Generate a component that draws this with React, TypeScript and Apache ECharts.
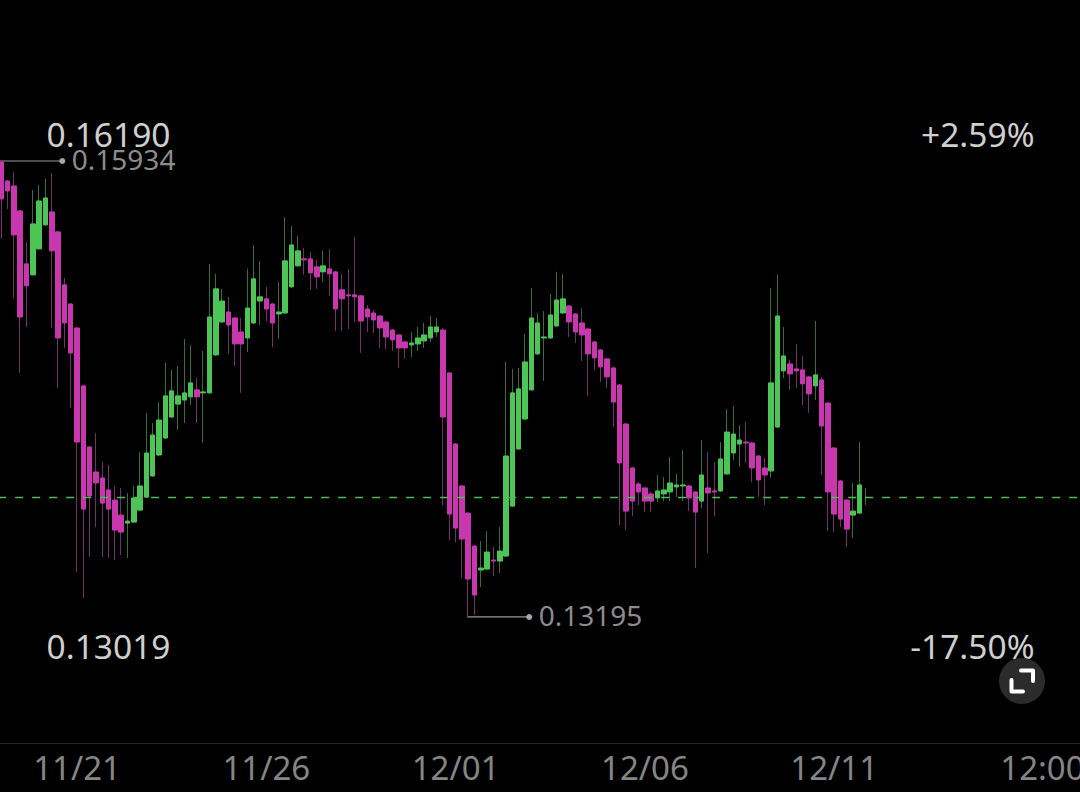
import React, { useEffect, useRef } from "react";
import * as echarts from "echarts";

const opens = [0.15928,0.15814,0.15784,0.15634,0.15316,0.15250,0.15406,0.15550,0.15628,0.15508,0.15190,0.15075,0.14931,0.14583,0.14216,0.14066,0.14030,0.13958,0.13897,0.13807,
0.13759,0.13765,0.13837,0.13915,0.14042,0.14168,0.14270,0.14396,0.14474,0.14498,0.14517,0.14559,0.14541,0.14541,0.14769,0.14967,0.15027,0.14991,0.14907,0.14871,
0.14961,0.15093,0.15106,0.15075,0.15015,0.15021,0.15178,0.15304,0.15346,0.15346,0.15298,0.15268,0.15286,0.15268,0.15160,0.15130,0.15130,0.15124,0.15045,0.15021,
0.15003,0.14967,0.14919,0.14889,0.14847,0.14829,0.14835,0.14853,0.14871,0.14907,0.14919,0.14661,0.14234,0.13982,0.13819,0.13621,0.13477,0.13483,0.13537,0.13531,
0.13561,0.13861,0.14204,0.14384,0.14559,0.14775,0.14871,0.14871,0.14943,0.15021,0.15063,0.15015,0.14961,0.14925,0.14847,0.14799,0.14745,0.14691,0.14589,0.14354,
0.14090,0.13994,0.13970,0.13934,0.13910,0.13934,0.13946,0.13976,0.13982,0.13982,0.13946,0.13891,0.13970,0.13952,0.13952,0.14054,0.14180,0.14234,0.14246,0.14240,
0.14162,0.14090,0.14072,0.14336,0.14673,0.14715,0.14685,0.14679,0.14637,0.14583,0.14619,0.14480,0.14210,0.14012,0.13897,0.13807,0.13819,0.13915];

const closes = [0.15706,0.15754,0.15490,0.14997,0.15184,0.15556,0.15694,0.15712,0.15394,0.14871,0.14961,0.14781,0.14246,0.13843,0.13922,0.14000,0.13879,0.13843,0.13717,0.13705,
0.13771,0.13910,0.13982,0.14180,0.14288,0.14378,0.14523,0.14553,0.14523,0.14541,0.14601,0.14517,0.14547,0.14997,0.15166,0.15093,0.14949,0.14835,0.14835,0.15051,
0.15226,0.15118,0.15045,0.14961,0.15027,0.15334,0.15430,0.15394,0.15340,0.15262,0.15238,0.15304,0.15256,0.15045,0.15106,0.15124,0.15118,0.14973,0.14997,0.14979,
0.14931,0.14877,0.14859,0.14811,0.14811,0.14841,0.14871,0.14889,0.14937,0.14937,0.14396,0.13813,0.13729,0.13663,0.13423,0.13327,0.13489,0.13585,0.13531,0.13591,
0.14162,0.14541,0.14565,0.14727,0.14991,0.14961,0.14877,0.15009,0.15099,0.15106,0.14967,0.14907,0.14889,0.14775,0.14751,0.14697,0.14637,0.14486,0.14120,0.13831,
0.13891,0.13946,0.13891,0.13891,0.13952,0.13958,0.14000,0.13988,0.13988,0.13910,0.13825,0.14048,0.13940,0.13946,0.14144,0.14306,0.14294,0.14258,0.14240,0.14090,
0.14018,0.14048,0.14601,0.15003,0.14763,0.14655,0.14673,0.14595,0.14535,0.14649,0.14342,0.13946,0.13813,0.13783,0.13723,0.13831,0.13988,0.13915];

const lows = [0.15466,0.15646,0.15112,0.14661,0.14937,0.15246,0.15400,0.15546,0.14931,0.14571,0.14811,0.14450,0.13465,0.13309,0.13555,0.13735,0.13555,0.13549,0.13537,0.13567,
0.13549,0.13759,0.13831,0.13909,0.14036,0.14162,0.14264,0.14390,0.14318,0.14360,0.14468,0.14360,0.14240,0.14535,0.14763,0.14961,0.14775,0.14703,0.14541,0.14787,
0.14955,0.14949,0.14973,0.14817,0.14865,0.15015,0.15172,0.15298,0.15250,0.15160,0.15166,0.15208,0.15124,0.14913,0.14913,0.14925,0.14967,0.14781,0.14907,0.14901,
0.14811,0.14805,0.14793,0.14691,0.14745,0.14757,0.14793,0.14811,0.14847,0.14877,0.13867,0.13657,0.13645,0.13429,0.13195,0.13207,0.13375,0.13477,0.13441,0.13459,
0.13555,0.13855,0.14198,0.14378,0.14553,0.14769,0.14613,0.14865,0.14937,0.15015,0.14877,0.14841,0.14733,0.14523,0.14679,0.14607,0.14571,0.14336,0.13747,0.13717,
0.13801,0.13867,0.13825,0.13825,0.13885,0.13891,0.13891,0.13915,0.13891,0.13831,0.13489,0.13849,0.13579,0.13801,0.13946,0.14048,0.14138,0.14096,0.14120,0.14006,
0.13915,0.13867,0.14030,0.14330,0.14631,0.14559,0.14571,0.14468,0.14420,0.14498,0.14048,0.13711,0.13705,0.13735,0.13615,0.13669,0.13813,0.13867];

const highs = [0.15934,0.15820,0.15868,0.15640,0.15448,0.15760,0.15790,0.15826,0.15862,0.15514,0.15232,0.15081,0.14937,0.14589,0.14222,0.14300,0.14126,0.14108,0.13982,0.13970,
0.13940,0.13982,0.14186,0.14420,0.14360,0.14486,0.14721,0.14679,0.14703,0.14865,0.14829,0.14631,0.14793,0.15316,0.15256,0.15166,0.15118,0.14997,0.14991,0.15286,
0.15430,0.15334,0.15178,0.15081,0.15208,0.15598,0.15544,0.15484,0.15412,0.15388,0.15340,0.15394,0.15406,0.15274,0.15256,0.15286,0.15478,0.15130,0.15069,0.15039,
0.15009,0.14973,0.14925,0.14895,0.14853,0.14907,0.14937,0.14961,0.15003,0.14991,0.14931,0.14667,0.14240,0.13988,0.13825,0.13627,0.13651,0.13711,0.13615,0.13735,
0.14727,0.14685,0.14691,0.14895,0.15172,0.15021,0.15033,0.15136,0.15268,0.15256,0.15069,0.15021,0.15051,0.14931,0.14853,0.14805,0.14751,0.14697,0.14595,0.14360,
0.14096,0.14006,0.13976,0.13946,0.14048,0.14036,0.14156,0.14054,0.14198,0.13988,0.13952,0.14258,0.14186,0.14126,0.14246,0.14444,0.14462,0.14348,0.14366,0.14246,
0.14168,0.14150,0.15172,0.15250,0.14937,0.14739,0.14835,0.14763,0.14643,0.14973,0.14637,0.14486,0.14216,0.14018,0.13903,0.14000,0.14246,0.13970];

const tickCategories = ["11/21 00:00", "11/26 00:00", "12/01 00:00", "12/06 00:00", "12/11 00:00", "12/16 12:00"];
const currentPrice = 0.13915;
const highPrice = 0.15934;
const lowPrice = 0.13195;
const rangeHigh = "0.16190";
const rangeLow = "0.13019";
const pctHigh = "+2.59%";
const pctLow = "-17.50%";

const SLOTS = 172;
const FONT = '"Noto Sans", sans-serif';
const GREEN = "#4cc556";
const MAGENTA = "#c837ae";
const GREEN_WICK = "#33703c";
const MAGENTA_WICK = "#74306c";

function buildCategories(): string[] {
  const out: string[] = [];
  const pad = (n: number) => String(n).padStart(2, "0");
  for (let i = 0; i < SLOTS; i++) {
    const d = new Date(Date.UTC(2023, 10, 19, i * 4));
    out.push(`${pad(d.getUTCMonth() + 1)}/${pad(d.getUTCDate())} ${pad(d.getUTCHours())}:00`);
  }
  return out;
}

export default function App() {
  const ref = useRef<HTMLDivElement>(null);
  useEffect(() => {
    document.body.style.margin = "0";
    document.body.style.background = "#000";
    const chart = echarts.init(ref.current!, null, { renderer: "svg" });
    const categories = buildCategories();
    const wicks = opens.map((o, i) => [o, closes[i], lows[i], highs[i]]);
    const bodies = opens.map((o, i) =>
      o === closes[i] ? ["-", "-", "-", "-"] : [o, closes[i], Math.min(o, closes[i]), Math.max(o, closes[i])]
    );
    chart.setOption({
      animation: false,
      backgroundColor: "#000",
      grid: { left: -1.85, top: 0, width: 1085.3, height: 743, containLabel: false, outerBoundsMode: "none" },
      xAxis: {
        type: "category",
        data: categories,
        boundaryGap: true,
        axisLine: { show: true, lineStyle: { color: "#272727", width: 1 } },
        axisTick: { show: false },
        splitLine: { show: false },
        axisLabel: {
          interval: (_: number, value: string) => tickCategories.includes(value),
          formatter: (value: string) => {
            const [date, time] = value.split(" ");
            return time === "00:00" ? date : time;
          },
          color: "#858585",
          fontFamily: FONT,
          fontSize: 33,
          margin: 8,
          hideOverlap: false,
        },
      },
      yAxis: { type: "value", min: 0.12438, max: 0.16901, show: false, scale: true },
      series: [
        {
          type: "candlestick",
          name: "wicks",
          barWidth: 1,
          z: 2,
          data: wicks,
          itemStyle: {
            color: GREEN_WICK,
            color0: MAGENTA_WICK,
            borderColor: GREEN_WICK,
            borderColor0: MAGENTA_WICK,
            borderColorDoji: GREEN_WICK,
            borderWidth: 1,
          },
          markLine: {
            silent: true,
            symbol: "none",
            precision: 5,
            label: { show: false },
            lineStyle: { color: "#52b85e", type: [8, 9], width: 1.3 },
            data: [{ yAxis: currentPrice }],
          },
        },
        {
          type: "candlestick",
          name: "bodies",
          barWidth: 5,
          z: 3,
          data: bodies,
          itemStyle: {
            color: GREEN,
            color0: MAGENTA,
            borderColor: GREEN,
            borderColor0: MAGENTA,
            borderWidth: 1,
          },
        },
      ],
    });

    const px = (idx: number) => chart.convertToPixel({ xAxisIndex: 0 }, idx) as number;
    const py = (v: number) => chart.convertToPixel({ yAxisIndex: 0 }, v) as number;
    const leader = (idx: number, price: number, label: string) => {
      const x0 = Math.max(0, px(idx) - 1.3);
      const xEnd = px(idx) + 61;
      const y = py(price);
      return [
        { type: "line", shape: { x1: x0, y1: y, x2: xEnd, y2: y }, style: { stroke: "#9a9a9a", lineWidth: 1.2 } },
        { type: "circle", shape: { cx: xEnd, cy: y, r: 3 }, style: { fill: "#a8a8a8" } },
        {
          type: "text",
          x: xEnd + 9.5,
          y: y - 1.5,
          style: { text: label, fill: "#8c8c8c", font: `28px ${FONT}`, verticalAlign: "middle", align: "left" },
        },
      ];
    };
    const corner = (text: string, x: number, y: number, align: string) => ({
      type: "text",
      x,
      y,
      style: { text, fill: "#cfcfcf", font: `33.5px ${FONT}`, align, verticalAlign: "middle" },
    });
    const hi = highs.indexOf(highPrice);
    const lo = lows.indexOf(lowPrice);
    chart.setOption({
      graphic: [
        ...leader(hi, highPrice, highPrice.toFixed(5)),
        ...leader(lo, lowPrice, lowPrice.toFixed(5)),
        corner(rangeHigh, 46.5, 133.5, "left"),
        corner(pctHigh, 1034.5, 133.5, "right"),
        corner(rangeLow, 46.5, 645.5, "left"),
        corner(pctLow, 1034.5, 645.5, "right"),
        { type: "circle", shape: { cx: 1022, cy: 681, r: 23 }, style: { fill: "#2b2b2b" } },
        {
          type: "polyline",
          shape: { points: [[1021, 670.5], [1033, 670.5], [1033, 681]] },
          style: { stroke: "#fff", lineWidth: 4, fill: "none", lineCap: "round", lineJoin: "round" },
        },
        {
          type: "polyline",
          shape: { points: [[1011.5, 680], [1011.5, 691.5], [1023, 691.5]] },
          style: { stroke: "#fff", lineWidth: 4, fill: "none", lineCap: "round", lineJoin: "round" },
        },
      ],
    });
    return () => chart.dispose();
  }, []);
  return <div ref={ref} style={{ position: "fixed", left: 0, top: 0, width: 1080, height: 792 }} />;
}
